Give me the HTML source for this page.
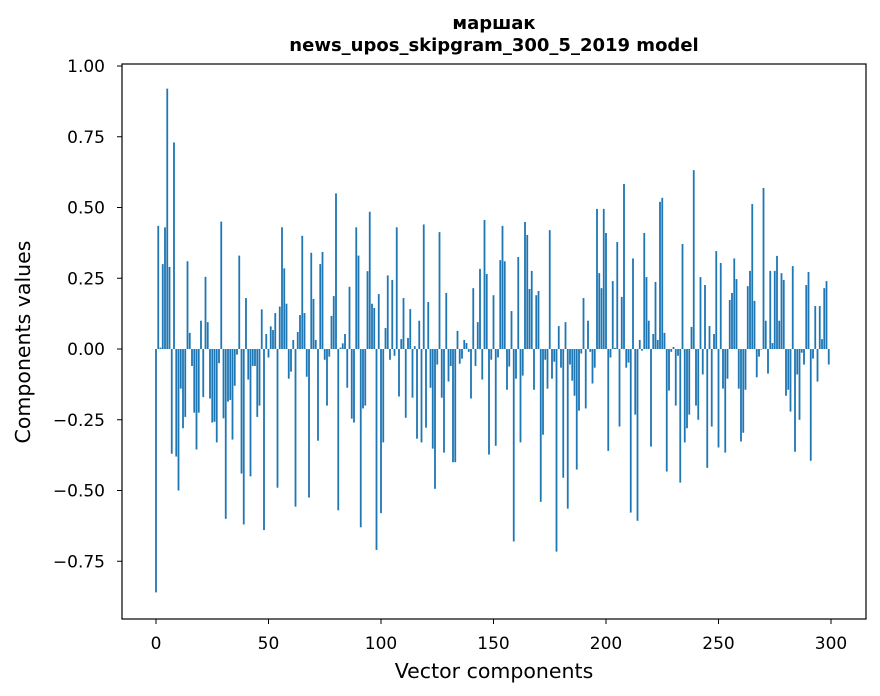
<!DOCTYPE html>
<html><head><meta charset="utf-8"><style>
body{margin:0;background:#fff;}
svg{display:block;font-family:"DejaVu Sans","Liberation Sans",sans-serif;}
</style></head><body>
<svg id="chart" width="880" height="696">
<rect width="880" height="696" fill="#fff"/>
<g id="bars"></g>
<g id="axes"></g>
<rect x="122" y="64" width="744" height="555" fill="none" stroke="#000" stroke-width="1.2"/>
<text x="494" y="29" text-anchor="middle" font-size="18" font-weight="bold">маршак</text>
<text x="494" y="51" text-anchor="middle" font-size="18" font-weight="bold">news_upos_skipgram_300_5_2019 model</text>
<text x="494" y="678" text-anchor="middle" font-size="20.5">Vector components</text>
<text x="30" y="342" text-anchor="middle" font-size="20.5" transform="rotate(-90 30 342)">Components values</text>
</svg>
<script>
const values = [-0.86,0.435,0.005,0.30,0.43,0.92,0.29,-0.37,0.73,-0.38,
-0.50,-0.14,-0.28,-0.24,0.31,0.057,-0.06,-0.225,-0.355,-0.225,
0.10,-0.17,0.255,0.095,-0.175,-0.26,-0.257,-0.33,-0.05,0.45,
-0.245,-0.60,-0.186,-0.18,-0.32,-0.13,-0.02,0.33,-0.44,-0.62,
0.18,-0.108,-0.45,-0.06,-0.06,-0.24,-0.20,0.14,-0.64,0.053,
-0.03,0.08,0.067,0.127,-0.49,0.15,0.43,0.285,0.16,-0.105,
-0.08,0.032,-0.557,0.06,0.12,0.40,0.127,-0.098,-0.525,0.34,
0.177,0.032,-0.324,0.30,0.343,-0.038,-0.2,-0.027,0.117,0.187,
0.55,-0.57,0.005,0.02,0.053,-0.137,0.22,-0.246,-0.26,0.43,
0.33,-0.63,-0.21,-0.2,0.275,0.485,0.16,0.145,-0.71,0.194,
-0.58,-0.33,0.074,0.26,-0.038,0.244,-0.024,0.43,-0.168,0.035,
0.18,-0.243,0.039,0.141,-0.172,0.01,-0.317,0.1,-0.33,0.44,
-0.278,0.166,-0.137,-0.352,-0.494,-0.055,0.413,-0.172,-0.366,0.198,
-0.115,-0.06,-0.4,-0.4,0.064,-0.052,-0.034,0.032,0.021,-0.01,
-0.175,0.215,-0.06,0.095,0.283,-0.108,0.456,0.265,-0.373,-0.038,
0.19,-0.342,-0.03,0.314,0.435,0.31,-0.144,-0.062,0.134,-0.68,
-0.105,0.325,-0.33,-0.094,0.449,0.403,0.212,0.276,-0.144,0.19,
0.205,-0.54,-0.303,-0.038,-0.14,0.42,-0.105,-0.045,-0.716,0.081,
-0.066,-0.455,0.095,-0.564,-0.055,-0.112,-0.165,-0.426,-0.218,-0.016,
0.18,-0.21,0.1,-0.01,-0.122,-0.066,0.495,0.268,0.215,0.495,
0.41,-0.36,-0.03,0.24,0.004,0.378,-0.274,0.184,0.583,-0.066,
-0.048,-0.578,0.32,-0.232,-0.607,0.032,-0.006,0.41,0.254,0.1,
-0.345,0.053,0.237,0.032,0.52,0.534,0.057,-0.433,-0.147,-0.01,
0.007,-0.2,-0.024,-0.472,0.371,-0.33,-0.28,-0.232,0.078,0.632,
-0.2,-0.25,0.254,-0.09,0.226,-0.42,0.081,-0.274,0.053,0.346,
-0.348,0.304,-0.14,-0.366,-0.105,0.173,0.198,0.32,0.247,-0.14,
-0.327,-0.296,-0.144,0.222,0.276,0.512,0.17,-0.1,-0.027,-0.002,
0.569,0.1,-0.087,0.276,0.021,0.276,0.329,0.1,0.268,0.244,
-0.165,-0.144,-0.221,0.293,-0.363,-0.09,-0.25,-0.013,-0.055,0.226,
0.272,-0.395,-0.034,0.152,-0.115,0.152,0.035,0.215,0.24,-0.055];
const xTicks = [0,50,100,150,200,250,300];
const yTicks = [1.00,0.75,0.50,0.25,0.00,-0.25,-0.50,-0.75];
const yTickLabels = ["1.00","0.75","0.50","0.25","0.00","\u22120.25","\u22120.50","\u22120.75"];

const NS = "http://www.w3.org/2000/svg";
function xs(v){ return 156 + 2.25*v; }
function ys(v){ return 349 - 283*v; }
const barsG = document.getElementById('bars');
values.forEach((v,i)=>{
  const r = document.createElementNS(NS,'rect');
  const y0 = ys(Math.max(v,0)), y1 = ys(Math.min(v,0));
  r.setAttribute('x', xs(i-0.4));
  r.setAttribute('y', y0);
  r.setAttribute('width', 2.25*0.8);
  r.setAttribute('height', Math.max(y1-y0,0.01));
  r.setAttribute('fill','#1f77b4');
  
  
  barsG.appendChild(r);
});
const axesG = document.getElementById('axes');
xTicks.forEach(t=>{
  const l = document.createElementNS(NS,'line');
  l.setAttribute('x1',xs(t));l.setAttribute('x2',xs(t));
  l.setAttribute('y1',619);l.setAttribute('y2',624);
  l.setAttribute('stroke','#000');
  
  
  axesG.appendChild(l);
  const tx = document.createElementNS(NS,'text');
  tx.setAttribute('x',xs(t));tx.setAttribute('y',649);
  tx.setAttribute('text-anchor','middle');tx.setAttribute('font-size','17');
  tx.textContent = t;
  
  
  axesG.appendChild(tx);
});
yTicks.forEach((t,k)=>{
  const l = document.createElementNS(NS,'line');
  l.setAttribute('x1',117);l.setAttribute('x2',122);
  l.setAttribute('y1',ys(t));l.setAttribute('y2',ys(t));
  l.setAttribute('stroke','#000');
  
  
  axesG.appendChild(l);
  const tx = document.createElementNS(NS,'text');
  tx.setAttribute('x',105);tx.setAttribute('y',ys(t)+6);
  tx.setAttribute('text-anchor','end');tx.setAttribute('font-size','17');
  tx.textContent = yTickLabels[k];
  
  
  axesG.appendChild(tx);
});
</script>
</body></html>
